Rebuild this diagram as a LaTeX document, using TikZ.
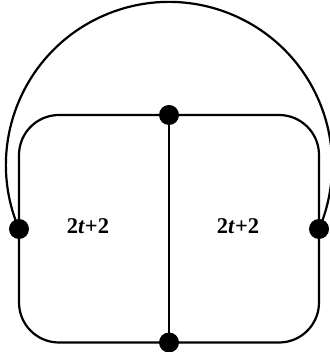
\documentclass[tikz,border=0pt]{standalone}
\usepackage{fontspec}
\setmainfont{Liberation Serif}
\usetikzlibrary{positioning}

\tikzset{
  vertex/.style={circle,fill=black,inner sep=0pt,minimum size=20pt},
  edge/.style={line width=2.2pt},
  facelabel/.style={font=\fontsize{22.5}{27}\selectfont\bfseries}
}

\begin{document}
\begin{tikzpicture}[x=1pt,y=1pt]
  \useasboundingbox (0,0) rectangle (329,352);
  % vertices
  \coordinate (lp) at (19,123);
  \coordinate (rp) at (319,123);
  \coordinate (tp) at (169,237);
  \coordinate (bp) at (169,9.5);
  % outer rounded cycle
  \draw[edge,rounded corners=40pt] (lp) |- (tp) -| (rp) |- (bp) -| (lp);
  % middle edge
  \draw[edge] (tp) -- (bp);
  % outer arc over the top
  \draw[edge] (lp) arc[start angle=203.1,end angle=-23.1,radius=163.1];
  \node[vertex] (left) at (lp) {};
  \node[vertex] (right) at (rp) {};
  \node[vertex] (top) at (tp) {};
  \node[vertex] (bottom) at (bp) {};
  % face labels
  \node[facelabel] (faceL) at (88,126) {2\textit{t}+2};
  \node[facelabel] (faceR) at (238,126) {2\textit{t}+2};
\end{tikzpicture}
\end{document}
